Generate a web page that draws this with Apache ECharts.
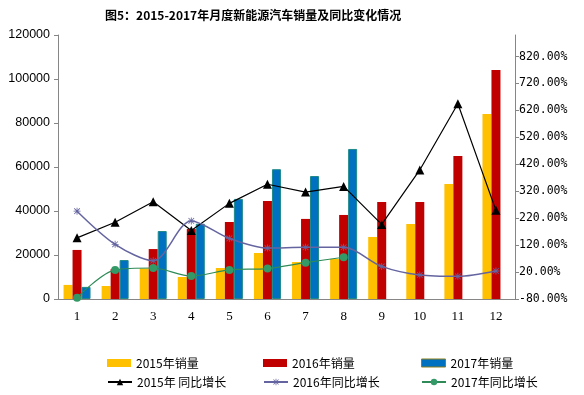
<!DOCTYPE html>
<html><head><meta charset="utf-8">
<script src="https://cdn.jsdelivr.net/npm/echarts@6/dist/echarts.min.js"></script>
<style>html,body{margin:0;padding:0;background:#fff}#c{width:584px;height:395px}</style>
</head><body><div id="c"></div>
<script>
const months = ['1','2','3','4','5','6','7','8','9','10','11','12'];
const sales2015 = [6400, 5900, 13900, 10000, 14100, 20900, 16800, 18200, 28200, 34100, 52300, 84100];
const sales2016 = [22300, 13600, 22700, 31800, 35000, 44500, 36400, 38200, 44100, 44100, 65000, 104100];
const sales2017 = [5500, 17700, 30900, 34200, 45500, 59000, 55900, 68200, null, null, null, null];
const yoy2015 = [147, 205, 281, 174, 275, 346, 317, 338, 197, 399, 645, 249];
const yoy2016 = [246, 123, 62, 210, 145, 109, 112, 112, 41, 9, 4, 24];
const yoy2017 = [-75, 28, 35, 5, 28, 33, 55, 75, null, null, null, null];
const rightTicks = ['-80.00%','20.00%','120.00%','220.00%','320.00%','420.00%','520.00%','620.00%','720.00%','820.00%'];
const names = ['2015年销量','2016年销量','2017年销量','2015年 同比增长','2016年同比增长','2017年同比增长'];

const OFFSET = 80; // right axis drawn from 0 = -80%
const shift = a => a.map(v => v == null ? null : v + OFFSET);
const rightTickValues = rightTicks.map((t, i) => i * 100);
const cjk = '"Noto Sans CJK SC", sans-serif';
const asterisk = 'path://M4.4,0H5.6V10H4.4Z M0,4.4H10V5.6H0Z M0.6,1.4L1.4,0.6L9.4,8.6L8.6,9.4Z M8.6,0.6L9.4,1.4L1.4,9.4L0.6,8.6Z';

const chart = echarts.init(document.getElementById('c'));
function leg(name, left, top, extra) {
  return Object.assign({
    data: [name], left: left, top: top, itemWidth: 24, itemHeight: 8, itemGap: 4,
    padding: 0, textStyle: {fontFamily: cjk, fontSize: 12, color: '#000'}
  }, extra || {});
}
chart.setOption({
  animation: false,
  title: {
    text: '图5：2015-2017年月度新能源汽车销量及同比变化情况',
    left: 100, top: 4,
    textStyle: {fontFamily: cjk, fontSize: 12, fontWeight: 'bold', color: '#000'}
  },
  legend: [
    leg(names[0], 107, 357, {icon: 'rect'}),
    leg(names[1], 263, 357, {icon: 'rect'}),
    leg(names[2], 421, 357, {icon: 'rect', itemStyle: {borderColor: '#8B7D1A', borderWidth: 1}}),
    leg(names[3], 107, 376),
    leg(names[4], 263, 376),
    leg(names[5], 421, 376)
  ],
  grid: {left: 58, right: 69, top: 35, bottom: 96},
  xAxis: {
    type: 'category', data: months, boundaryGap: true,
    axisLine: {lineStyle: {color: '#868686'}},
    axisTick: {length: 4, lineStyle: {color: '#868686'}},
    axisLabel: {color: '#000', fontFamily: 'Liberation Serif', fontSize: 13, margin: 11}
  },
  yAxis: [
    {
      type: 'value', min: 0, max: 120000, interval: 20000, splitLine: {show: false},
      axisLine: {show: true, lineStyle: {color: '#868686'}},
      axisTick: {show: true, length: 4, lineStyle: {color: '#868686'}},
      axisLabel: {color: '#000', fontFamily: 'Liberation Sans', fontSize: 12.5, margin: 8,
        formatter: v => String(v)}
    },
    {
      type: 'value', min: 0, max: 980, interval: 100, splitLine: {show: false},
      axisLine: {show: true, lineStyle: {color: '#868686'}},
      axisTick: {show: true, length: 4, customValues: rightTickValues, lineStyle: {color: '#868686'}},
      axisLabel: {
        color: '#000', fontFamily: 'DejaVu Sans Mono', fontSize: 11.5, margin: 4,
        customValues: rightTickValues,
        formatter: v => { const i = Math.round(v / 100); return (v % 100 === 0 && i < rightTicks.length) ? rightTicks[i] : ''; }
      }
    }
  ],
  series: [
    {name: names[0], type: 'bar', data: sales2015, barWidth: 9, barGap: '0%', itemStyle: {color: '#FFC000'}},
    {name: names[1], type: 'bar', data: sales2016, barWidth: 9, barGap: '0%', itemStyle: {color: '#C00000'}},
    {name: names[2], type: 'bar', data: sales2017, barWidth: 9, barGap: '0%',
      itemStyle: {color: '#0070C0', borderColor: '#1F8A8A', borderWidth: 1}},
    {name: names[3], type: 'line', yAxisIndex: 1, data: shift(yoy2015), symbol: 'triangle', symbolSize: 9,
      lineStyle: {color: '#000', width: 1.2}, itemStyle: {color: '#000'}},
    {name: names[4], type: 'line', yAxisIndex: 1, data: shift(yoy2016), smooth: 0.3, symbol: asterisk, symbolSize: 7,
      lineStyle: {color: '#6464A0', width: 1.5}, itemStyle: {color: '#6464A0'}},
    {name: names[5], type: 'line', yAxisIndex: 1, data: shift(yoy2017), smooth: 0.3, symbol: 'circle', symbolSize: 8,
      lineStyle: {color: '#2E8B57', width: 1.2}, itemStyle: {color: '#339966'}}
  ]
});
</script></body></html>
